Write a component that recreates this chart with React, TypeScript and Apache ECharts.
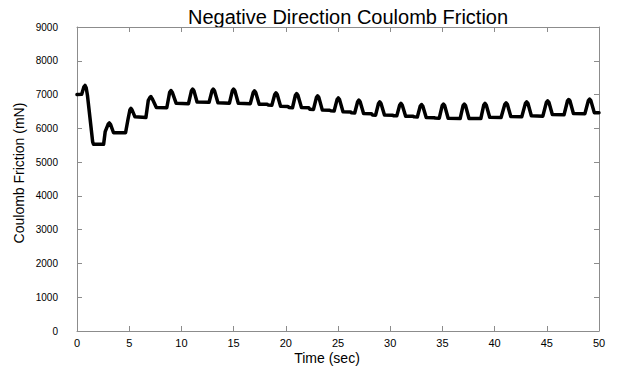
import React, { useEffect, useRef } from "react";
import * as echarts from "echarts";

const chartTitle = "Negative Direction Coulomb Friction";
const xAxisName = "Time (sec)";
const yAxisName = "Coulomb Friction (mN)";
const xTicks = [0, 5, 10, 15, 20, 25, 30, 35, 40, 45, 50];
const yTicks = [0, 1000, 2000, 3000, 4000, 5000, 6000, 7000, 8000, 9000];

const timeSec = [
  0, 0.45, 0.65, 0.77, 0.88, 1.0, 1.25, 1.5, 1.58, 2.55,
  2.7, 2.98, 3.1, 3.22, 3.5, 4.65, 4.9, 5.07, 5.17, 5.28,
  5.55, 6.6, 6.83, 6.98, 7.08, 7.2, 7.6, 8.6, 8.88, 9.0,
  9.12, 9.5, 10.68, 10.96, 11.08, 11.2, 11.5, 12.65, 12.93, 13.05,
  13.17, 13.5, 14.6, 14.88, 15.0, 15.12, 15.45, 16.6, 16.88, 17.0,
  17.12, 17.45, 18.2, 18.3, 18.66, 18.94, 19.06, 19.18, 19.5, 20.2,
  20.3, 20.64, 20.92, 21.04, 21.16, 21.5, 22.2, 22.3, 22.65, 22.93,
  23.05, 23.17, 23.5, 24.2, 24.3, 24.63, 24.91, 25.03, 25.15, 25.48,
  26.2, 26.3, 26.6, 26.88, 27.0, 27.12, 27.45, 28.2, 28.3, 28.6,
  28.88, 29.0, 29.12, 29.45, 30.2, 30.3, 30.63, 30.91, 31.03, 31.15,
  31.48, 32.2, 32.3, 32.6, 32.88, 33.0, 33.12, 33.45, 34.2, 34.3,
  34.7, 34.98, 35.1, 35.22, 35.55, 36.7, 36.98, 37.1, 37.22, 37.55,
  38.68, 38.96, 39.08, 39.2, 39.53, 40.62, 40.98, 41.1, 41.22, 41.55,
  42.6, 42.95, 43.07, 43.19, 43.52, 44.62, 44.96, 45.08, 45.2, 45.53,
  46.65, 46.98, 47.1, 47.22, 47.55, 48.65, 48.98, 49.1, 49.22, 49.55,
  50,
];

const frictionMN = [
  7000, 7010, 7220, 7270, 7200, 6980, 6290, 5600, 5530, 5530,
  5900, 6120, 6160, 6110, 5870, 5870, 6290, 6550, 6590, 6540,
  6340, 6320, 6830, 6910, 6940, 6880, 6620, 6610, 7070, 7120,
  7070, 6740, 6730, 7110, 7160, 7110, 6780, 6770, 7110, 7160,
  7110, 6755, 6745, 7110, 7160, 7110, 6740, 6730, 7060, 7110,
  7060, 6716, 6716, 6690, 6680, 7000, 7050, 7000, 6655, 6650,
  6620, 6610, 6980, 7030, 6980, 6615, 6610, 6565, 6560, 6910,
  6960, 6910, 6540, 6535, 6520, 6515, 6850, 6900, 6850, 6490,
  6485, 6460, 6455, 6785, 6835, 6785, 6440, 6435, 6395, 6390,
  6735, 6785, 6735, 6395, 6390, 6375, 6370, 6690, 6736, 6690,
  6360, 6355, 6340, 6335, 6660, 6706, 6660, 6320, 6315, 6305,
  6300, 6670, 6716, 6670, 6300, 6290, 6670, 6716, 6670, 6290,
  6290, 6690, 6736, 6690, 6330, 6320, 6710, 6755, 6710, 6350,
  6340, 6740, 6784, 6740, 6370, 6360, 6770, 6814, 6770, 6410,
  6400, 6810, 6854, 6810, 6440, 6435, 6820, 6864, 6820, 6465,
  6460,
];

const FONT = "Liberation Sans, Arial, sans-serif";
const FRAME = "#8c8c8c";

export default function App() {
  const ref = useRef<HTMLDivElement>(null);

  useEffect(() => {
    document.body.style.margin = "0";
    if (!ref.current) return;
    const chart = echarts.init(ref.current, null, { renderer: "svg" });
    const data = timeSec.map((t, i) => [t, frictionMN[i]]);
    const xMin = xTicks[0];
    const xMax = xTicks[xTicks.length - 1];
    const xStep = xTicks[1] - xTicks[0];
    const yMin = yTicks[0];
    const yMax = yTicks[yTicks.length - 1];
    const yStep = yTicks[1] - yTicks[0];

    const axisCommon = {
      axisLine: { show: true, onZero: false, lineStyle: { color: FRAME, width: 1 } },
      axisTick: { show: true, inside: true, length: 5, lineStyle: { color: FRAME } },
      splitLine: { show: false },
    };

    chart.setOption({
      animation: false,
      backgroundColor: "#ffffff",
      grid: { left: 77, right: 19, top: 27, bottom: 41, containLabel: false },
      xAxis: [
        {
          type: "value",
          min: xMin,
          max: xMax,
          interval: xStep,
          position: "bottom",
          ...axisCommon,
          axisLabel: {
            color: "#000",
            fontSize: 11,
            fontFamily: FONT,
            margin: 6,
            formatter: (v: number) => String(v),
          },
        },
        {
          type: "value",
          min: xMin,
          max: xMax,
          interval: xStep,
          position: "top",
          ...axisCommon,
          axisLabel: { show: false },
        },
      ],
      yAxis: [
        {
          type: "value",
          min: yMin,
          max: yMax,
          interval: yStep,
          position: "left",
          ...axisCommon,
          axisLabel: {
            color: "#000",
            fontSize: 10,
            fontFamily: FONT,
            margin: 19,
            formatter: (v: number) => String(v),
          },
        },
        {
          type: "value",
          min: yMin,
          max: yMax,
          interval: yStep,
          position: "right",
          ...axisCommon,
          axisLabel: { show: false },
        },
      ],
      graphic: [
        {
          type: "text",
          x: 348,
          y: 17,
          style: {
            text: chartTitle,
            fontSize: 20,
            fontFamily: FONT,
            fill: "#000",
            textAlign: "center",
            textVerticalAlign: "middle",
          },
        },
        {
          type: "text",
          x: 327,
          y: 358,
          style: {
            text: xAxisName,
            fontSize: 14,
            fontFamily: FONT,
            fill: "#000",
            textAlign: "center",
            textVerticalAlign: "middle",
          },
        },
        {
          type: "text",
          x: 19,
          y: 173,
          rotation: Math.PI / 2,
          style: {
            text: yAxisName,
            fontSize: 14,
            fontFamily: FONT,
            fill: "#000",
            textAlign: "center",
            textVerticalAlign: "middle",
          },
        },
      ],
      series: [
        {
          type: "line",
          xAxisIndex: 0,
          yAxisIndex: 0,
          data,
          showSymbol: false,
          symbol: "none",
          lineStyle: { color: "#000", width: 3.5, join: "round", cap: "round" },
          z: 3,
        },
      ],
    });

    return () => chart.dispose();
  }, []);

  return <div ref={ref} style={{ width: 618, height: 372 }} />;
}
